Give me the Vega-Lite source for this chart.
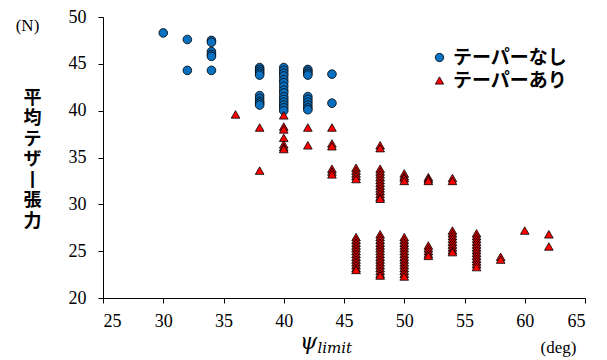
{
  "$schema": "https://vega.github.io/schema/vega-lite/v6.json",
  "width": 482,
  "height": 281,
  "autosize": "none",
  "padding": {"left": 103, "top": 17, "right": 22, "bottom": 62},
  "background": "white",
  "config": {
    "view": {"stroke": null},
    "style": {"guide-label": {"font": "Liberation Serif", "fontSize": 18, "fill": "#000000"}},
    "axis": {
      "grid": false,
      "domainColor": "#000000",
      "tickColor": "#000000",
      "domainWidth": 1,
      "tickWidth": 1,
      "tickSize": 5,
      "labelFont": "Liberation Serif",
      "labelFontSize": 18,
      "labelColor": "#000000",
      "titleColor": "#000000"
    }
  },
  "data": {"values": [
    {"psi": 30, "T": 48.3, "s": "テーパーなし"},
    {"psi": 32, "T": 47.6, "s": "テーパーなし"},
    {"psi": 32, "T": 44.3, "s": "テーパーなし"},
    {"psi": 34, "T": 47.5, "s": "テーパーなし"},
    {"psi": 34, "T": 47.3, "s": "テーパーなし"},
    {"psi": 34, "T": 46.3, "s": "テーパーなし"},
    {"psi": 34, "T": 46.0, "s": "テーパーなし"},
    {"psi": 34, "T": 45.8, "s": "テーパーなし"},
    {"psi": 34, "T": 44.3, "s": "テーパーなし"},
    {"psi": 38, "T": 44.6, "s": "テーパーなし"},
    {"psi": 38, "T": 44.4, "s": "テーパーなし"},
    {"psi": 38, "T": 44.2, "s": "テーパーなし"},
    {"psi": 38, "T": 44.0, "s": "テーパーなし"},
    {"psi": 38, "T": 43.8, "s": "テーパーなし"},
    {"psi": 38, "T": 41.6, "s": "テーパーなし"},
    {"psi": 38, "T": 41.3, "s": "テーパーなし"},
    {"psi": 38, "T": 41.0, "s": "テーパーなし"},
    {"psi": 38, "T": 40.8, "s": "テーパーなし"},
    {"psi": 38, "T": 40.6, "s": "テーパーなし"},
    {"psi": 40, "T": 44.6, "s": "テーパーなし"},
    {"psi": 40, "T": 44.3, "s": "テーパーなし"},
    {"psi": 40, "T": 44.0, "s": "テーパーなし"},
    {"psi": 40, "T": 43.7, "s": "テーパーなし"},
    {"psi": 40, "T": 43.3, "s": "テーパーなし"},
    {"psi": 40, "T": 43.0, "s": "テーパーなし"},
    {"psi": 40, "T": 42.6, "s": "テーパーなし"},
    {"psi": 40, "T": 42.2, "s": "テーパーなし"},
    {"psi": 40, "T": 41.9, "s": "テーパーなし"},
    {"psi": 40, "T": 41.5, "s": "テーパーなし"},
    {"psi": 40, "T": 41.2, "s": "テーパーなし"},
    {"psi": 40, "T": 40.9, "s": "テーパーなし"},
    {"psi": 40, "T": 40.6, "s": "テーパーなし"},
    {"psi": 40, "T": 40.3, "s": "テーパーなし"},
    {"psi": 40, "T": 40.0, "s": "テーパーなし"},
    {"psi": 42, "T": 44.4, "s": "テーパーなし"},
    {"psi": 42, "T": 44.2, "s": "テーパーなし"},
    {"psi": 42, "T": 44.0, "s": "テーパーなし"},
    {"psi": 42, "T": 43.8, "s": "テーパーなし"},
    {"psi": 42, "T": 41.5, "s": "テーパーなし"},
    {"psi": 42, "T": 41.2, "s": "テーパーなし"},
    {"psi": 42, "T": 40.9, "s": "テーパーなし"},
    {"psi": 42, "T": 40.6, "s": "テーパーなし"},
    {"psi": 42, "T": 40.3, "s": "テーパーなし"},
    {"psi": 42, "T": 40.1, "s": "テーパーなし"},
    {"psi": 44, "T": 43.9, "s": "テーパーなし"},
    {"psi": 44, "T": 40.8, "s": "テーパーなし"},
    {"psi": 36, "T": 39.6, "s": "テーパーあり"},
    {"psi": 38, "T": 38.2, "s": "テーパーあり"},
    {"psi": 38, "T": 33.6, "s": "テーパーあり"},
    {"psi": 40, "T": 39.5, "s": "テーパーあり"},
    {"psi": 40, "T": 38.3, "s": "テーパーあり"},
    {"psi": 40, "T": 38.0, "s": "テーパーあり"},
    {"psi": 40, "T": 37.1, "s": "テーパーあり"},
    {"psi": 40, "T": 36.4, "s": "テーパーあり"},
    {"psi": 40, "T": 36.1, "s": "テーパーあり"},
    {"psi": 40, "T": 35.9, "s": "テーパーあり"},
    {"psi": 42, "T": 38.2, "s": "テーパーあり"},
    {"psi": 42, "T": 36.3, "s": "テーパーあり"},
    {"psi": 44, "T": 38.2, "s": "テーパーあり"},
    {"psi": 44, "T": 36.5, "s": "テーパーあり"},
    {"psi": 44, "T": 36.2, "s": "テーパーあり"},
    {"psi": 44, "T": 33.8, "s": "テーパーあり"},
    {"psi": 44, "T": 33.5, "s": "テーパーあり"},
    {"psi": 44, "T": 33.2, "s": "テーパーあり"},
    {"psi": 46, "T": 33.9, "s": "テーパーあり"},
    {"psi": 46, "T": 33.6, "s": "テーパーあり"},
    {"psi": 46, "T": 33.3, "s": "テーパーあり"},
    {"psi": 46, "T": 33.0, "s": "テーパーあり"},
    {"psi": 46, "T": 32.7, "s": "テーパーあり"},
    {"psi": 48, "T": 36.3, "s": "テーパーあり"},
    {"psi": 48, "T": 36.0, "s": "テーパーあり"},
    {"psi": 48, "T": 33.8, "s": "テーパーあり"},
    {"psi": 48, "T": 33.5, "s": "テーパーあり"},
    {"psi": 48, "T": 33.2, "s": "テーパーあり"},
    {"psi": 48, "T": 32.9, "s": "テーパーあり"},
    {"psi": 48, "T": 32.6, "s": "テーパーあり"},
    {"psi": 48, "T": 32.3, "s": "テーパーあり"},
    {"psi": 48, "T": 32.0, "s": "テーパーあり"},
    {"psi": 48, "T": 31.7, "s": "テーパーあり"},
    {"psi": 48, "T": 31.4, "s": "テーパーあり"},
    {"psi": 48, "T": 31.1, "s": "テーパーあり"},
    {"psi": 48, "T": 30.8, "s": "テーパーあり"},
    {"psi": 48, "T": 30.6, "s": "テーパーあり"},
    {"psi": 50, "T": 33.3, "s": "テーパーあり"},
    {"psi": 50, "T": 33.0, "s": "テーパーあり"},
    {"psi": 50, "T": 32.8, "s": "テーパーあり"},
    {"psi": 50, "T": 32.5, "s": "テーパーあり"},
    {"psi": 52, "T": 32.9, "s": "テーパーあり"},
    {"psi": 52, "T": 32.7, "s": "テーパーあり"},
    {"psi": 52, "T": 32.5, "s": "テーパーあり"},
    {"psi": 54, "T": 32.8, "s": "テーパーあり"},
    {"psi": 54, "T": 32.5, "s": "テーパーあり"},
    {"psi": 46, "T": 26.5, "s": "テーパーあり"},
    {"psi": 46, "T": 26.2, "s": "テーパーあり"},
    {"psi": 46, "T": 25.9, "s": "テーパーあり"},
    {"psi": 46, "T": 25.6, "s": "テーパーあり"},
    {"psi": 46, "T": 25.3, "s": "テーパーあり"},
    {"psi": 46, "T": 25.0, "s": "テーパーあり"},
    {"psi": 46, "T": 24.7, "s": "テーパーあり"},
    {"psi": 46, "T": 24.4, "s": "テーパーあり"},
    {"psi": 46, "T": 24.1, "s": "テーパーあり"},
    {"psi": 46, "T": 23.8, "s": "テーパーあり"},
    {"psi": 46, "T": 23.5, "s": "テーパーあり"},
    {"psi": 46, "T": 23.2, "s": "テーパーあり"},
    {"psi": 46, "T": 23.0, "s": "テーパーあり"},
    {"psi": 48, "T": 26.8, "s": "テーパーあり"},
    {"psi": 48, "T": 26.5, "s": "テーパーあり"},
    {"psi": 48, "T": 26.2, "s": "テーパーあり"},
    {"psi": 48, "T": 25.9, "s": "テーパーあり"},
    {"psi": 48, "T": 25.6, "s": "テーパーあり"},
    {"psi": 48, "T": 25.3, "s": "テーパーあり"},
    {"psi": 48, "T": 25.0, "s": "テーパーあり"},
    {"psi": 48, "T": 24.7, "s": "テーパーあり"},
    {"psi": 48, "T": 24.4, "s": "テーパーあり"},
    {"psi": 48, "T": 24.1, "s": "テーパーあり"},
    {"psi": 48, "T": 23.8, "s": "テーパーあり"},
    {"psi": 48, "T": 23.5, "s": "テーパーあり"},
    {"psi": 48, "T": 23.2, "s": "テーパーあり"},
    {"psi": 48, "T": 22.9, "s": "テーパーあり"},
    {"psi": 48, "T": 22.6, "s": "テーパーあり"},
    {"psi": 48, "T": 22.4, "s": "テーパーあり"},
    {"psi": 50, "T": 26.5, "s": "テーパーあり"},
    {"psi": 50, "T": 26.2, "s": "テーパーあり"},
    {"psi": 50, "T": 25.9, "s": "テーパーあり"},
    {"psi": 50, "T": 25.6, "s": "テーパーあり"},
    {"psi": 50, "T": 25.3, "s": "テーパーあり"},
    {"psi": 50, "T": 25.0, "s": "テーパーあり"},
    {"psi": 50, "T": 24.7, "s": "テーパーあり"},
    {"psi": 50, "T": 24.4, "s": "テーパーあり"},
    {"psi": 50, "T": 24.1, "s": "テーパーあり"},
    {"psi": 50, "T": 23.8, "s": "テーパーあり"},
    {"psi": 50, "T": 23.5, "s": "テーパーあり"},
    {"psi": 50, "T": 23.2, "s": "テーパーあり"},
    {"psi": 50, "T": 22.9, "s": "テーパーあり"},
    {"psi": 50, "T": 22.6, "s": "テーパーあり"},
    {"psi": 50, "T": 22.3, "s": "テーパーあり"},
    {"psi": 52, "T": 25.6, "s": "テーパーあり"},
    {"psi": 52, "T": 25.3, "s": "テーパーあり"},
    {"psi": 52, "T": 25.0, "s": "テーパーあり"},
    {"psi": 52, "T": 24.7, "s": "テーパーあり"},
    {"psi": 52, "T": 24.5, "s": "テーパーあり"},
    {"psi": 54, "T": 27.2, "s": "テーパーあり"},
    {"psi": 54, "T": 26.9, "s": "テーパーあり"},
    {"psi": 54, "T": 26.6, "s": "テーパーあり"},
    {"psi": 54, "T": 26.3, "s": "テーパーあり"},
    {"psi": 54, "T": 26.0, "s": "テーパーあり"},
    {"psi": 54, "T": 25.7, "s": "テーパーあり"},
    {"psi": 54, "T": 25.4, "s": "テーパーあり"},
    {"psi": 54, "T": 25.1, "s": "テーパーあり"},
    {"psi": 54, "T": 24.9, "s": "テーパーあり"},
    {"psi": 56, "T": 26.9, "s": "テーパーあり"},
    {"psi": 56, "T": 26.6, "s": "テーパーあり"},
    {"psi": 56, "T": 26.3, "s": "テーパーあり"},
    {"psi": 56, "T": 26.0, "s": "テーパーあり"},
    {"psi": 56, "T": 25.7, "s": "テーパーあり"},
    {"psi": 56, "T": 25.4, "s": "テーパーあり"},
    {"psi": 56, "T": 25.1, "s": "テーパーあり"},
    {"psi": 56, "T": 24.8, "s": "テーパーあり"},
    {"psi": 56, "T": 24.5, "s": "テーパーあり"},
    {"psi": 56, "T": 24.2, "s": "テーパーあり"},
    {"psi": 56, "T": 23.9, "s": "テーパーあり"},
    {"psi": 56, "T": 23.6, "s": "テーパーあり"},
    {"psi": 56, "T": 23.3, "s": "テーパーあり"},
    {"psi": 58, "T": 24.4, "s": "テーパーあり"},
    {"psi": 58, "T": 24.1, "s": "テーパーあり"},
    {"psi": 60, "T": 27.2, "s": "テーパーあり"},
    {"psi": 62, "T": 26.8, "s": "テーパーあり"},
    {"psi": 62, "T": 25.5, "s": "テーパーあり"}
  ]},
  "resolve": {"axis": {"x": "independent", "y": "independent"}},
  "layer": [
    {
      "mark": {"type": "point", "filled": true, "opacity": 1, "stroke": "#000000", "strokeWidth": 0.8, "size": 75},
      "encoding": {
        "x": {"field": "psi", "type": "quantitative",
          "scale": {"domain": [25, 65], "nice": false, "zero": false},
          "axis": {"orient": "bottom", "values": [25, 30, 35, 40, 45, 50, 55, 60, 65], "labelPadding": 9,
            "labelFont": "Liberation Serif", "labelFontSize": 18, "labelColor": "#000000",
            "title": "ψ", "titleFont": "DejaVu Serif", "titleFontStyle": "italic", "titleFontWeight": "normal", "titleFontSize": 22,
            "titleAnchor": "start", "titleAlign": "center", "titleBaseline": "alphabetic", "titleX": 205, "titleY": 50}},
        "y": {"field": "T", "type": "quantitative",
          "scale": {"domain": [20, 50], "nice": false, "zero": false},
          "axis": {"orient": "left", "values": [20, 25, 30, 35, 40, 45, 50], "labelPadding": 12,
            "labelFont": "Liberation Serif", "labelFontSize": 18, "labelColor": "#000000",
            "title": ["平", "均", "テ", "ザ", "丨", "張", "力"], "titleFont": "Noto Sans CJK JP", "titleFontWeight": "bold", "titleFontSize": 18,
            "titleAngle": 0, "titleLineHeight": 20.5, "titleAlign": "center", "titleBaseline": "top", "titleX": -71, "titleY": 72}},
        "shape": {"field": "s", "type": "nominal",
          "scale": {"domain": ["テーパーなし", "テーパーあり"], "range": ["circle", "triangle-up"]},
          "legend": {"title": null, "orient": "none", "legendX": 327, "legendY": 31, "padding": 0,
            "labelFont": "Noto Sans CJK JP", "labelFontSize": 19, "labelFontWeight": "bold", "labelColor": "#000000",
            "symbolSize": 70, "symbolStrokeColor": "#000000", "symbolStrokeWidth": 0.8, "rowPadding": 3, "labelOffset": 4}},
        "color": {"field": "s", "type": "nominal",
          "scale": {"domain": ["テーパーなし", "テーパーあり"], "range": ["#0A70C0", "#FF0000"]},
          "legend": {"title": null, "orient": "none", "legendX": 327, "legendY": 31, "padding": 0,
            "labelFont": "Noto Sans CJK JP", "labelFontSize": 19, "labelFontWeight": "bold", "labelColor": "#000000",
            "symbolSize": 70, "symbolStrokeColor": "#000000", "symbolStrokeWidth": 0.8, "rowPadding": 3, "labelOffset": 4}}
      }
    },
    {
      "mark": {"type": "point", "opacity": 0},
      "encoding": {
        "x": {"field": "psi", "type": "quantitative", "scale": {"domain": [25, 65], "nice": false, "zero": false},
          "axis": {"orient": "bottom", "labels": false, "ticks": false, "domain": false,
            "title": "limit", "titleFont": "DejaVu Serif", "titleFontStyle": "italic", "titleFontWeight": "normal", "titleFontSize": 15,
            "titleAnchor": "start", "titleAlign": "left", "titleBaseline": "alphabetic", "titleX": 214, "titleY": 54}},
        "y": {"field": "T", "type": "quantitative", "scale": {"domain": [20, 50], "nice": false, "zero": false},
          "axis": {"orient": "left", "labels": false, "ticks": false, "domain": false,
            "title": "(N)", "titleFont": "Liberation Serif", "titleFontWeight": "normal", "titleFontSize": 17,
            "titleAngle": 0, "titleAlign": "center", "titleBaseline": "alphabetic", "titleX": -76, "titleY": 13}}
      }
    },
    {
      "mark": {"type": "point", "opacity": 0},
      "encoding": {
        "x": {"field": "psi", "type": "quantitative", "scale": {"domain": [25, 65], "nice": false, "zero": false},
          "axis": {"orient": "bottom", "labels": false, "ticks": false, "domain": false,
            "title": "(deg)", "titleFont": "Liberation Serif", "titleFontWeight": "normal", "titleFontSize": 17,
            "titleAnchor": "start", "titleAlign": "center", "titleBaseline": "alphabetic", "titleX": 455, "titleY": 54}},
        "y": {"field": "T", "type": "quantitative", "scale": {"domain": [20, 50], "nice": false, "zero": false},
          "axis": null}
      }
    }
  ]
}
